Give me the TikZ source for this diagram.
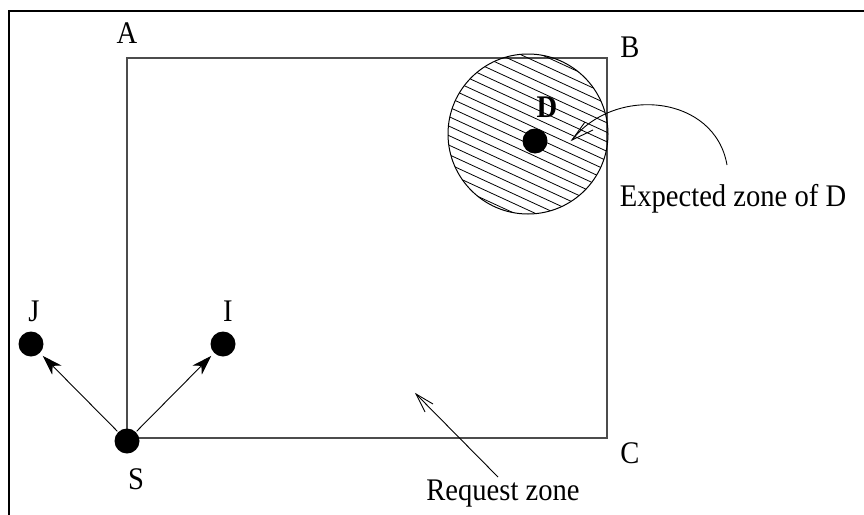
\documentclass[tikz,border=0pt]{standalone}
\usepackage{fontspec}
\setmainfont{Liberation Serif}
\usetikzlibrary{arrows.meta,calc}
\newcommand{\tallt}[1]{\scalebox{1}[1.1]{#1}}
\begin{document}
\begin{tikzpicture}[x=1pt,y=-1pt,
  dot/.style={circle,fill=black,inner sep=0pt,minimum size=25pt},
  lbl/.style={font=\fontsize{28.6}{30}\selectfont,anchor=base,inner sep=0pt},
  fillarrow/.style={-{Stealth[length=20pt,width=13pt,inset=6pt]},line width=0.9pt},
  openline/.style={line width=0.9pt,line join=miter}]
\useasboundingbox (0,0) rectangle (864,514);
% outer frame
\draw[line width=2.2pt] (9,530) -- (9,11) -- (880,11);
% request zone rectangle
\draw[black!70,line width=1.3pt] (127,58) rectangle (607,438);
% expected zone
\coordinate (c) at (528,134);
\begin{scope}
\clip (c) circle (80);
\foreach \k in {-18,...,16} {
  \draw[line width=0.8pt] (428,134+\k*9.5-46) -- (628,134+\k*9.5+46);
}
\end{scope}
\draw[line width=1pt] (c) circle (80);
% nodes
\node[dot] (D) at (535,141) {};
\node[dot] (S) at (127,441) {};
\node[dot] (J) at (31,344) {};
\node[dot] (I) at (223,344) {};
% labels
\node[lbl] (lA) at (127,43) {\tallt{A}};
\node[lbl] (lB) at (630,57) {\tallt{B}};
\node[lbl] (lC) at (630,463) {\tallt{C}};
\node[lbl,font=\fontsize{28.6}{30}\selectfont\bfseries] (lD) at (547,117) {\tallt{D}};
\node[lbl] (lJ) at (34,321) {\tallt{J}};
\node[lbl] (lI) at (228,321) {\tallt{I}};
\node[lbl] (lS) at (136,489) {\tallt{S}};
\node[lbl] (exp) at (733,206) {\tallt{Expected zone of D}};
\node[lbl] (req) at (503,500) {\tallt{Request zone}};
% arrows
\draw[fillarrow,shorten <=1pt,shorten >=4pt] (S) -- (J);
\draw[fillarrow,shorten <=1pt,shorten >=4pt] (S) -- (I);
\coordinate (expS) at (727,165);
\coordinate (expE) at (572,140);
\draw[openline] (expS) .. controls (715,95) and (615,85) .. (expE);
\draw[openline] ($(expE)+(13,-18)$) -- (expE) -- ($(expE)+(21,-10)$);
\coordinate (reqS) at (498,477);
\coordinate (reqE) at (416,394);
\draw[openline] (reqS) -- (reqE);
\draw[openline] ($(reqE)+(17,10)$) -- (reqE) -- ($(reqE)+(9,18)$);
\end{tikzpicture}
\end{document}
